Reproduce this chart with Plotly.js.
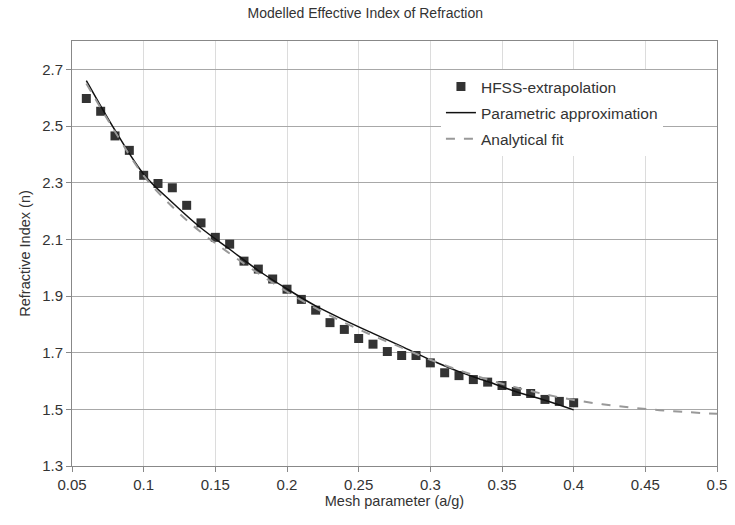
<!DOCTYPE html>
<html>
<head>
<meta charset="utf-8">
<script src="https://cdn.plot.ly/plotly-3.0.1.min.js"></script>
<style>html,body{margin:0;padding:0;background:#fff;}#chart{width:735px;height:525px;}</style>
</head>
<body>
<div id="chart"></div>
<script>
// HFSS-extrapolation data
const hfssX = [0.06,0.07,0.08,0.09,0.10,0.11,0.12,0.13,0.14,0.15,0.16,0.17,0.18,0.19,0.20,0.21,0.22,0.23,0.24,0.25,0.26,0.27,0.28,0.29,0.30,0.31,0.32,0.33,0.34,0.35,0.36,0.37,0.38,0.39,0.40];
const hfssY = [2.597,2.552,2.465,2.414,2.326,2.297,2.282,2.220,2.158,2.107,2.083,2.023,1.995,1.960,1.924,1.888,1.850,1.806,1.782,1.750,1.730,1.704,1.690,1.690,1.664,1.629,1.619,1.605,1.596,1.584,1.563,1.556,1.535,1.528,1.523];
// Parametric approximation (solid)
const paramX = [0.06,0.08,0.10,0.12,0.14,0.16,0.18,0.20,0.22,0.24,0.26,0.28,0.30,0.32,0.34,0.36,0.38,0.40];
const paramY = [2.660,2.485,2.330,2.230,2.140,2.065,1.990,1.925,1.865,1.815,1.768,1.722,1.675,1.633,1.598,1.562,1.532,1.498];
// Analytical fit (dashed)
const fitX = [0.06,0.08,0.10,0.12,0.14,0.16,0.18,0.20,0.22,0.24,0.26,0.28,0.30,0.32,0.34,0.36,0.38,0.40,0.42,0.44,0.46,0.48,0.50];
const fitY = [2.650,2.480,2.325,2.215,2.125,2.050,1.980,1.915,1.857,1.806,1.760,1.718,1.675,1.638,1.605,1.577,1.553,1.533,1.518,1.506,1.497,1.490,1.484];

const fnt = 'Liberation Sans, Arial, sans-serif';
const traces = [
  {x: hfssX, y: hfssY, type: 'scatter', mode: 'markers', name: 'HFSS-extrapolation', legendgroup: 'a',
   marker: {symbol: 'square', size: 9, color: '#333333'}},
  {x: paramX, y: paramY, type: 'scatter', mode: 'lines', name: 'Parametric approximation', legendgroup: 'b',
   line: {color: '#111111', width: 1.5, shape: 'spline'}},
  {x: fitX, y: fitY, type: 'scatter', mode: 'lines', name: 'Analytical fit', legendgroup: 'c',
   line: {color: '#999999', width: 2, dash: 'dash', shape: 'spline'}}
];
const layout = {
  width: 735, height: 525,
  margin: {l: 72, r: 18, t: 41, b: 59},
  paper_bgcolor: '#ffffff', plot_bgcolor: '#ffffff',
  font: {family: fnt, size: 14, color: '#333333'},
  title: {text: 'Modelled Effective Index of Refraction', font: {family: fnt, size: 14, color: '#333'},
          xref: 'container', x: 0.497, xanchor: 'center', yref: 'container', y: 0.976, yanchor: 'middle'},
  xaxis: {range: [0.05, 0.5], tick0: 0.05, dtick: 0.05, showgrid: true, gridcolor: '#dcdcdc', gridwidth: 1,
          showline: true, linecolor: '#888888', linewidth: 1, mirror: true, ticks: 'outside', ticklen: 5, tickcolor: '#888888',
          zeroline: false, tickfont: {size: 15, color: '#333'},
          title: {text: 'Mesh parameter (a/g)', font: {size: 14.5, color: '#333'}, standoff: 3}},
  yaxis: {range: [1.3, 2.8], tick0: 1.3, dtick: 0.2, showgrid: true, gridcolor: '#a8a8a8', gridwidth: 1,
          showline: true, linecolor: '#888888', linewidth: 1, mirror: true, ticks: 'outside', ticklen: 5, tickcolor: '#888888',
          zeroline: false, tickfont: {size: 15, color: '#333'},
          title: {text: 'Refractive Index (n)', font: {size: 14.5, color: '#333'}, standoff: 8}},
  legend: {x: 0.572, y: 0.932, xanchor: 'left', yanchor: 'top', bgcolor: '#ffffff', borderwidth: 0,
           font: {size: 15.5, color: '#333'}, tracegroupgap: 3, traceorder: 'grouped'},
  showlegend: true
};
Plotly.newPlot('chart', traces, layout, {displayModeBar: false, staticPlot: true});
</script>
</body>
</html>
